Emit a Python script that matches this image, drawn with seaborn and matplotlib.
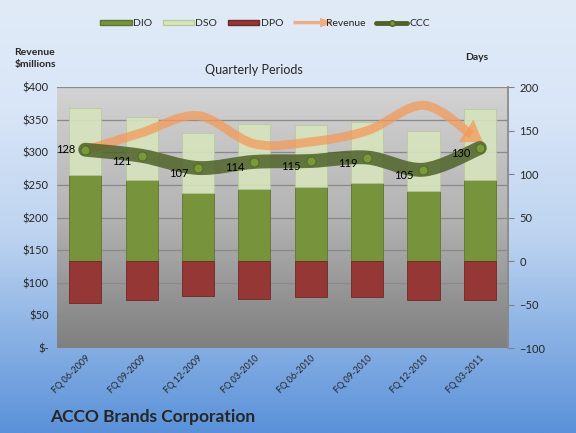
import numpy as np
import pandas as pd
import seaborn as sns
import matplotlib.pyplot as plt
from matplotlib.path import Path
from matplotlib.patches import PathPatch, Patch, FancyArrow
from matplotlib.lines import Line2D
from matplotlib.legend_handler import HandlerPatch
from matplotlib.colors import LinearSegmentedColormap

quarters = ["FQ 06-2009", "FQ 09-2009", "FQ 12-2009", "FQ 03-2010",
            "FQ 06-2010", "FQ 09-2010", "FQ 12-2010", "FQ 03-2011"]
dio = [99, 93, 78, 83, 85, 90, 81, 93]
dso = [77, 73, 69, 74, 71, 70, 69, 82]
dpo = [48, 45, 40, 43, 41, 41, 45, 45]
ccc = [128, 121, 107, 114, 115, 119, 105, 130]
revenue = [303, 330, 356, 313, 316, 333, 372, 319]

rev_ticks = [0, 50, 100, 150, 200, 250, 300, 350, 400]
rev_labels = ["$-", "$50", "$100", "$150", "$200", "$250", "$300", "$350", "$400"]
day_ticks = [-100, -50, 0, 50, 100, 150, 200]

df = pd.DataFrame({"quarter": quarters, "DIO": dio, "DSO": dso,
                   "DPO": dpo, "CCC": ccc, "Revenue": revenue})
df["DPO_neg"] = -df["DPO"]
df["x"] = np.arange(len(df))

sns.set_theme(style="white")
plt.rcParams["font.family"] = ["Lato", "DejaVu Sans"]

C_DIO = "#77933c"
C_DSO = "#d7e4bd"
C_DPO = "#953735"
C_REV = "#f39a5a"
C_CCC = "#4f6228"


def smooth_path(xs, ys):
    # Catmull-Rom through the points, written as cubic Bezier segments
    pts = np.column_stack([xs, ys]).astype(float)
    ext = np.vstack([pts[0], pts, pts[-1]])
    verts = [pts[0]]
    codes = [Path.MOVETO]
    for i in range(len(pts) - 1):
        p0, p1, p2, p3 = ext[i], ext[i + 1], ext[i + 2], ext[i + 3]
        verts += [p1 + (p2 - p0) / 6, p2 - (p3 - p1) / 6, p2]
        codes += [Path.CURVE4] * 3
    return Path(verts, codes)


fig = plt.figure(figsize=(5.76, 4.33), dpi=100)

# figure background gradient
bg = fig.add_axes([0, 0, 1, 1], zorder=-10)
bg_cmap = LinearSegmentedColormap.from_list(
    "bg", [(0, "#5a91d9"), (0.45, "#bcd3f0"), (0.75, "#d9e6f7"), (1, "#e1ebf8")])
bg.imshow(np.linspace(0, 1, 256).reshape(-1, 1), aspect="auto", cmap=bg_cmap,
          extent=[0, 1, 0, 1], origin="lower")
bg.set_axis_off()

ax = fig.add_axes([0.099, 0.196, 0.783, 0.603])
ax.set_ylim(0, 400)
ax.set_xlim(-0.5, len(df) - 0.5)
plot_cmap = LinearSegmentedColormap.from_list("pa", ["#7f7f7f", "#b3b3b3", "#d3d3d3"])
ax.imshow(np.linspace(0, 1, 256).reshape(-1, 1), aspect="auto", cmap=plot_cmap,
          extent=[0, 1, 0, 1], origin="lower", transform=ax.transAxes, zorder=0)
ax.set_yticks(rev_ticks)
ax.set_yticklabels(rev_labels)
for v in rev_ticks[1:]:
    ax.axhline(v, color="#8a8a8a", lw=0.9, zorder=0.5)
ax.tick_params(axis="y", length=0, labelsize=8, pad=6)
for s in ax.spines.values():
    s.set_visible(False)

# bars on the days axis
ax2 = ax.twinx()
ax2.set_ylim(-100, 200)
sns.barplot(data=df, x="x", y="DIO", color=C_DIO, width=0.57, ax=ax2,
            native_scale=True, saturation=1, edgecolor="#5d7530", linewidth=0.6, zorder=2)
sns.barplot(data=df, x="x", y="DSO", bottom=df["DIO"], color=C_DSO, width=0.57, ax=ax2,
            native_scale=True, saturation=1, edgecolor="#b9c99a", linewidth=0.6,
            alpha=0.9, zorder=2)
sns.barplot(data=df, x="x", y="DPO_neg", color=C_DPO, width=0.57, ax=ax2,
            native_scale=True, saturation=1, edgecolor="#6e2826", linewidth=0.6, zorder=2)
ax2.set_xlim(-0.5, len(df) - 0.5)
ax2.set_ylim(-100, 200)
ax2.set_yticks(day_ticks)
ax2.set_ylabel("")
ax2.set_xlabel("")
ax2.tick_params(axis="y", length=4, width=0.8, color="#808080", labelsize=8, pad=4, direction="out")
ax2.tick_params(axis="x", length=0, labelbottom=False)
for s in ax2.spines.values():
    s.set_visible(False)
ax2.spines["right"].set_visible(True)
ax2.spines["right"].set_color("#8a8a8a")

# revenue curve with arrow head
ax3 = ax.twinx()
ax3.set_ylim(0, 400)
ax3.set_xlim(-0.5, len(df) - 0.5)
ax3.set_axis_off()
rev_path = smooth_path(df["x"][:-1].tolist() + [6.85], df["Revenue"][:-1].tolist() + [327])
ax3.add_patch(PathPatch(rev_path, fill=False, edgecolor=C_REV, lw=6.5, alpha=0.75,
                        capstyle="butt", joinstyle="round"))
ax3.annotate("", xy=(df["x"].iloc[-1] + 0.05, df["Revenue"].iloc[-1] - 3),
             xytext=(6.75, 333),
             arrowprops=dict(arrowstyle="simple,head_length=1.1,head_width=1.5,tail_width=0.01",
                             color=C_REV, alpha=0.75, lw=0, shrinkA=0, shrinkB=0,
                             mutation_scale=13))

# CCC line
ax4 = ax.twinx()
ax4.set_ylim(-100, 200)
ax4.set_xlim(-0.5, len(df) - 0.5)
ax4.set_axis_off()
ax4.add_patch(PathPatch(smooth_path(df["x"], df["CCC"]), fill=False, edgecolor=C_CCC,
                        lw=10, alpha=0.85, capstyle="round", joinstyle="round"))
sns.scatterplot(data=df, x="x", y="CCC", ax=ax4, s=42, color="#7a9a3a",
                edgecolor="#4f6228", linewidth=0.6, zorder=5, legend=False)
for xi, yi in zip(df["x"], df["CCC"]):
    off = (-7, 0) if xi == 0 else (-7, -4)
    ax4.annotate(str(yi), (xi, yi), xytext=off, textcoords="offset points",
                 ha="right", va="center", fontsize=8, color="black")

# category labels, set last because the twins share the x axis
ax.set_xticks(df["x"])
ax.set_xticklabels(quarters, rotation=45, ha="right", rotation_mode="anchor", fontsize=6.5)
ax.tick_params(axis="x", length=0, pad=4, labelbottom=True)
ax.set_xlim(-0.5, len(df) - 0.5)


class ArrowHandler(HandlerPatch):
    def create_artists(self, legend, orig_handle, xdescent, ydescent, width, height,
                       fontsize, trans):
        a = FancyArrow(-xdescent, height / 2 - ydescent, width * 1.3, 0, width=height * 0.6,
                       head_width=height * 1.7, head_length=width * 0.45,
                       length_includes_head=True, color=C_REV, alpha=0.75, lw=0)
        a.set_transform(trans)
        return [a]


handles = [Patch(facecolor=C_DIO, edgecolor="#5d7530"),
           Patch(facecolor=C_DSO, edgecolor="#b9c99a"),
           Patch(facecolor=C_DPO, edgecolor="#6e2826"),
           Patch(facecolor=C_REV),
           Line2D([], [], color=C_CCC, lw=3.5, marker="o", markersize=4,
                  markerfacecolor="#7a9a3a", markeredgecolor=C_CCC)]
labels = ["DIO", "DSO", "DPO", "Revenue", "CCC"]
fig.legend(handles, labels, loc="center", bbox_to_anchor=(0.46, 0.945), ncol=5,
           frameon=False, fontsize=7.5, handlelength=3.0, handleheight=0.45,
           columnspacing=1.0, handletextpad=0.15,
           handler_map={handles[3]: ArrowHandler()})

fig.text(0.025, 0.865, "Revenue\n$millions", fontsize=7.5, fontweight="bold",
         ha="left", va="center", linespacing=1.3)
fig.text(0.828, 0.867, "Days", fontsize=7.5, fontweight="bold", ha="center", va="center")
fig.text(0.44, 0.838, "Quarterly Periods", fontsize=9, ha="center", va="center")
fig.text(0.087, 0.037, "ACCO Brands Corporation", fontsize=12.5, fontweight="bold",
         ha="left", va="center")

fig.savefig("out.png", dpi=100)
